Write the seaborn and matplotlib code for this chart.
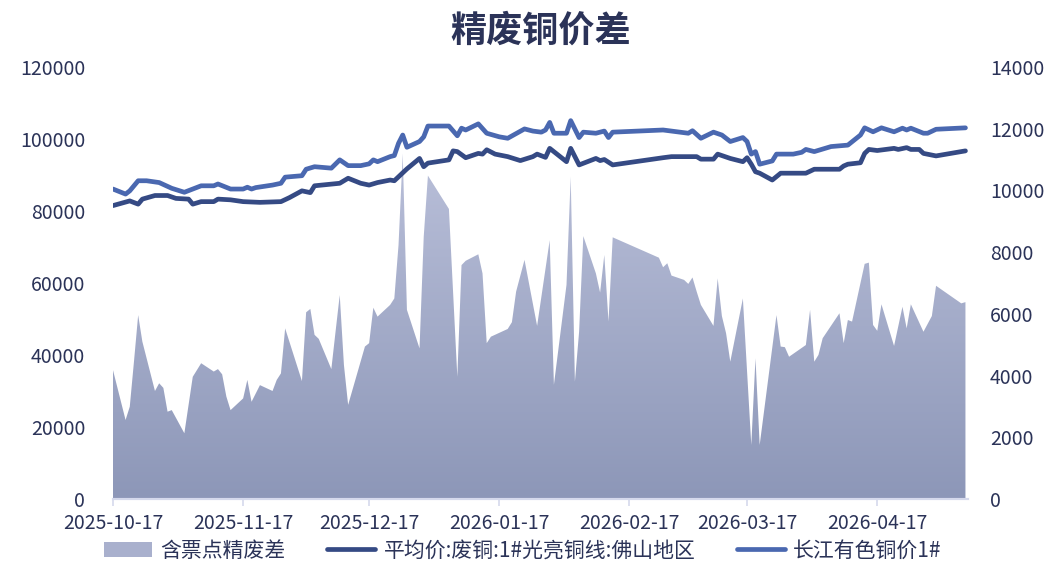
import seaborn as sns
import matplotlib.pyplot as plt
import matplotlib.dates as mdates
from matplotlib.colors import LinearSegmentedColormap
from matplotlib.patches import Patch
from matplotlib.lines import Line2D
import pandas as pd
import numpy as np

# 含票点精废差 (right axis)
spread_dates = [
    "2025-10-17", "2025-10-20", "2025-10-21", "2025-10-22", "2025-10-23", "2025-10-24",
    "2025-10-27", "2025-10-28", "2025-10-29", "2025-10-30", "2025-10-31", "2025-11-03",
    "2025-11-05", "2025-11-07", "2025-11-10", "2025-11-11", "2025-11-12", "2025-11-13",
    "2025-11-14", "2025-11-17", "2025-11-18", "2025-11-19", "2025-11-21", "2025-11-24",
    "2025-11-25", "2025-11-26", "2025-11-27", "2025-12-01", "2025-12-02", "2025-12-03",
    "2025-12-04", "2025-12-05", "2025-12-08", "2025-12-09", "2025-12-10", "2025-12-11",
    "2025-12-12", "2025-12-16", "2025-12-17", "2025-12-18", "2025-12-19", "2025-12-22",
    "2025-12-23", "2025-12-24", "2025-12-25", "2025-12-26", "2025-12-29", "2025-12-30",
    "2025-12-31", "2026-01-05", "2026-01-07", "2026-01-08", "2026-01-09", "2026-01-12",
    "2026-01-13", "2026-01-14", "2026-01-15", "2026-01-19", "2026-01-20", "2026-01-21",
    "2026-01-23", "2026-01-26", "2026-01-29", "2026-01-30", "2026-02-02", "2026-02-03",
    "2026-02-04", "2026-02-05", "2026-02-06", "2026-02-09", "2026-02-10", "2026-02-11",
    "2026-02-12", "2026-02-13", "2026-02-24", "2026-02-25", "2026-02-26", "2026-02-27",
    "2026-03-02", "2026-03-03", "2026-03-04", "2026-03-05", "2026-03-06", "2026-03-09",
    "2026-03-10", "2026-03-11", "2026-03-12", "2026-03-13", "2026-03-16", "2026-03-18",
    "2026-03-19", "2026-03-20", "2026-03-24", "2026-03-25", "2026-03-26", "2026-03-27",
    "2026-03-31", "2026-04-01", "2026-04-02", "2026-04-03", "2026-04-04", "2026-04-08",
    "2026-04-09", "2026-04-10", "2026-04-11", "2026-04-14", "2026-04-15", "2026-04-16",
    "2026-04-17", "2026-04-18", "2026-04-21", "2026-04-23", "2026-04-24", "2026-04-25",
    "2026-04-28", "2026-04-30", "2026-05-01", "2026-05-07", "2026-05-08",
]
spread = [
    4180, 2560, 2990, 4450, 5960, 5100,
    3500, 3750, 3600, 2830, 2880, 2130,
    3960, 4400, 4130, 4210, 4040, 3320,
    2880, 3260, 3860, 3150, 3690, 3500,
    3860, 4070, 5530, 3820, 6050, 6160,
    5320, 5190, 4210, 5420, 6610, 4340,
    3050, 4940, 5050, 6200, 5910, 6290,
    6500, 8230, 11200, 6130, 4880, 8500,
    10480, 9400, 3960, 7580, 7720, 7930,
    7310, 5050, 5260, 5510, 5730, 6720,
    7750, 5610, 8390, 3700, 6940, 10450,
    3800, 5420, 8520, 7310, 6690, 7910,
    5750, 8480, 7820, 7510, 7640, 7240,
    7100, 6970, 7180, 6720, 6290, 5610,
    7150, 5930, 5370, 4450, 6500, 1750,
    4560, 1750, 5960, 4940, 4920, 4610,
    4990, 6130, 4450, 4670, 5210, 6020,
    5050, 5800, 5750, 7620, 7660, 5640,
    5450, 6310, 4960, 6230, 5530, 6310,
    5420, 5930, 6910, 6340, 6380,
]

# 长江有色铜价1# (left axis)
cj_dates = [
    "2025-10-17", "2025-10-20", "2025-10-21", "2025-10-23", "2025-10-25", "2025-10-28",
    "2025-10-31", "2025-11-03", "2025-11-05", "2025-11-07", "2025-11-10", "2025-11-11",
    "2025-11-14", "2025-11-17", "2025-11-18", "2025-11-19", "2025-11-20", "2025-11-24",
    "2025-11-26", "2025-11-27", "2025-12-01", "2025-12-02", "2025-12-04", "2025-12-08",
    "2025-12-10", "2025-12-12", "2025-12-15", "2025-12-17", "2025-12-18", "2025-12-19",
    "2025-12-22", "2025-12-23", "2025-12-24", "2025-12-25", "2025-12-26", "2025-12-29",
    "2025-12-30", "2025-12-31", "2026-01-05", "2026-01-07", "2026-01-08", "2026-01-09",
    "2026-01-12", "2026-01-14", "2026-01-17", "2026-01-19", "2026-01-23", "2026-01-25",
    "2026-01-27", "2026-01-28", "2026-01-29", "2026-01-30", "2026-02-02", "2026-02-03",
    "2026-02-05", "2026-02-06", "2026-02-09", "2026-02-11", "2026-02-12", "2026-02-13",
    "2026-02-25", "2026-03-03", "2026-03-04", "2026-03-06", "2026-03-09", "2026-03-11",
    "2026-03-13", "2026-03-16", "2026-03-17", "2026-03-18", "2026-03-19", "2026-03-20",
    "2026-03-23", "2026-03-24", "2026-03-28", "2026-03-30", "2026-03-31", "2026-04-02",
    "2026-04-06", "2026-04-10", "2026-04-13", "2026-04-14", "2026-04-16", "2026-04-18",
    "2026-04-21", "2026-04-23", "2026-04-24", "2026-04-25", "2026-04-28", "2026-04-29",
    "2026-05-01", "2026-05-08",
]
cj_price = [
    86100, 84700, 85600, 88400, 88400, 87900,
    86300, 85200, 86100, 87000, 87000, 87500,
    86100, 86100, 86600, 86100, 86500, 87200,
    87700, 89400, 89800, 91600, 92300, 91900,
    94200, 92600, 92600, 93100, 94200, 93700,
    95100, 95400, 98800, 101100, 97700, 99300,
    100600, 103600, 103600, 100900, 103000, 102500,
    104200, 101600, 100600, 100200, 102800, 102200,
    101900, 102500, 104600, 101600, 101600, 105100,
    100400, 101900, 101600, 102200, 100400, 101900,
    102500, 101600, 102300, 100200, 101900, 101100,
    99300, 100400, 99300, 95800, 96500, 93000,
    93900, 95800, 95800, 96300, 97100, 96500,
    97900, 98300, 101100, 103100, 102000, 103100,
    102000, 103000, 102500, 103000, 101600, 101600,
    102700, 103100,
]

# 平均价:废铜:1#光亮铜线:佛山地区 (left axis)
fs_dates = [
    "2025-10-17", "2025-10-21", "2025-10-23", "2025-10-24", "2025-10-27", "2025-10-30",
    "2025-11-01", "2025-11-04", "2025-11-05", "2025-11-07", "2025-11-10", "2025-11-11",
    "2025-11-14", "2025-11-17", "2025-11-21", "2025-11-26", "2025-11-28", "2025-12-01",
    "2025-12-03", "2025-12-04", "2025-12-10", "2025-12-12", "2025-12-15", "2025-12-17",
    "2025-12-19", "2025-12-22", "2025-12-23", "2025-12-24", "2025-12-26", "2025-12-29",
    "2025-12-30", "2025-12-31", "2026-01-05", "2026-01-06", "2026-01-07", "2026-01-09",
    "2026-01-12", "2026-01-13", "2026-01-14", "2026-01-16", "2026-01-19", "2026-01-22",
    "2026-01-25", "2026-01-26", "2026-01-28", "2026-01-29", "2026-02-02", "2026-02-03",
    "2026-02-05", "2026-02-09", "2026-02-10", "2026-02-11", "2026-02-13", "2026-02-25",
    "2026-02-27", "2026-03-02", "2026-03-05", "2026-03-06", "2026-03-09", "2026-03-10",
    "2026-03-13", "2026-03-16", "2026-03-17", "2026-03-18", "2026-03-19", "2026-03-20",
    "2026-03-23", "2026-03-25", "2026-03-31", "2026-04-02", "2026-04-08", "2026-04-09",
    "2026-04-10", "2026-04-13", "2026-04-14", "2026-04-15", "2026-04-17", "2026-04-21",
    "2026-04-22", "2026-04-24", "2026-04-25", "2026-04-27", "2026-04-28", "2026-05-01",
    "2026-05-08",
]
fs_price = [
    81500, 82800, 81900, 83300, 84300, 84300,
    83500, 83300, 81900, 82600, 82600, 83300,
    83100, 82600, 82400, 82600, 83700, 85600,
    85100, 87000, 87700, 89100, 87700, 87200,
    87900, 88600, 88400, 89500, 91700, 94600,
    92300, 93300, 94200, 96700, 96500, 94800,
    96000, 95800, 97000, 95800, 95100, 94000,
    95100, 95800, 94900, 97400, 93700, 97400,
    92800, 94600, 94000, 94300, 92800, 94800,
    95100, 95100, 95100, 94400, 94400, 95800,
    94600, 93700, 94800, 93000, 90900, 90500,
    88600, 90500, 90500, 91600, 91600, 92500,
    93000, 93400, 96000, 97100, 96800, 97400,
    97100, 97600, 97100, 97100, 96000, 95300,
    96700,
]

x_ticks = ["2025-10-17", "2025-11-17", "2025-12-17", "2026-01-17",
           "2026-02-17", "2026-03-17", "2026-04-17"]

name_spread = "含票点精废差"
name_fs = "平均价:废铜:1#光亮铜线:佛山地区"
name_cj = "长江有色铜价1#"

df_spread = pd.DataFrame({"date": pd.to_datetime(spread_dates), "value": spread})
df_cj = pd.DataFrame({"date": pd.to_datetime(cj_dates), "value": cj_price})
df_fs = pd.DataFrame({"date": pd.to_datetime(fs_dates), "value": fs_price})

sns.set_theme(style="white")
plt.rcParams["font.family"] = ["Noto Sans CJK SC", "DejaVu Sans"]

text_color = "#2b3358"
c_cj = "#4a68b0"
c_fs = "#354a84"
axis_color = "#d5d9ec"

fig = plt.figure(figsize=(10.46, 5.63), dpi=100)
ax = fig.add_axes([0.108, 0.1137, 0.817, 0.7673])
ax2 = ax.twinx()

# area with vertical gradient on right axis
poly = ax2.fill_between(df_spread["date"], 0, df_spread["value"],
                        facecolor="none", edgecolor="none")
cmap = LinearSegmentedColormap.from_list("grad", ["#8d97b8", "#c4c9e1"])
x0 = mdates.date2num(df_spread["date"].iloc[0])
x1 = mdates.date2num(df_spread["date"].iloc[-1])
img = ax2.imshow(np.linspace(0, 1, 256).reshape(-1, 1), extent=[x0, x1, 0, 14000],
                 origin="lower", aspect="auto", cmap=cmap, zorder=1)
img.set_clip_path(poly.get_paths()[0], transform=ax2.transData)

sns.lineplot(data=df_fs, x="date", y="value", ax=ax, color=c_fs, linewidth=3.4)
sns.lineplot(data=df_cj, x="date", y="value", ax=ax, color=c_cj, linewidth=3.4)

ax.set_zorder(ax2.get_zorder() + 1)
ax.patch.set_visible(False)

ax.set_xlim(x0, x1 + 0.5)
ax.set_ylim(0, 120000)
ax2.set_ylim(0, 14000)
ax.set_yticks(range(0, 120001, 20000))
ax2.set_yticks(range(0, 14001, 2000))
ax.set_xticks(pd.to_datetime(x_ticks))
ax.xaxis.set_major_formatter(mdates.DateFormatter("%Y-%m-%d"))
ax.set_xlabel("")
ax.set_ylabel("")
ax2.set_ylabel("")

for a in (ax, ax2):
    for s in ("top", "left", "right"):
        a.spines[s].set_visible(False)
    a.spines["bottom"].set_color(axis_color)
    a.spines["bottom"].set_linewidth(1.5)
    a.grid(False)

ax.tick_params(axis="x", colors=text_color, labelsize=14, length=5, width=1.2,
               color=axis_color, pad=5, direction="out", bottom=True)
ax.tick_params(axis="y", colors=text_color, labelsize=14, length=0, pad=20)
ax2.tick_params(axis="y", colors=text_color, labelsize=14, length=0, pad=16)

fig.suptitle("精废铜价差", x=0.517, y=0.978, fontsize=26, fontweight="bold",
             color=text_color)

handles = [
    Patch(facecolor="#a9b0cd", edgecolor="none"),
    Line2D([0], [0], color=c_fs, linewidth=3.4),
    Line2D([0], [0], color=c_cj, linewidth=3.4),
]
fig.legend(handles, [name_spread, name_fs, name_cj], loc="center",
           bbox_to_anchor=(0.5, 0.022), ncol=3, frameon=False, fontsize=15,
           labelcolor=text_color, columnspacing=2.0, handlelength=2.3,
           handletextpad=0.4, borderpad=0.1)

fig.savefig("out.png", dpi=100)
